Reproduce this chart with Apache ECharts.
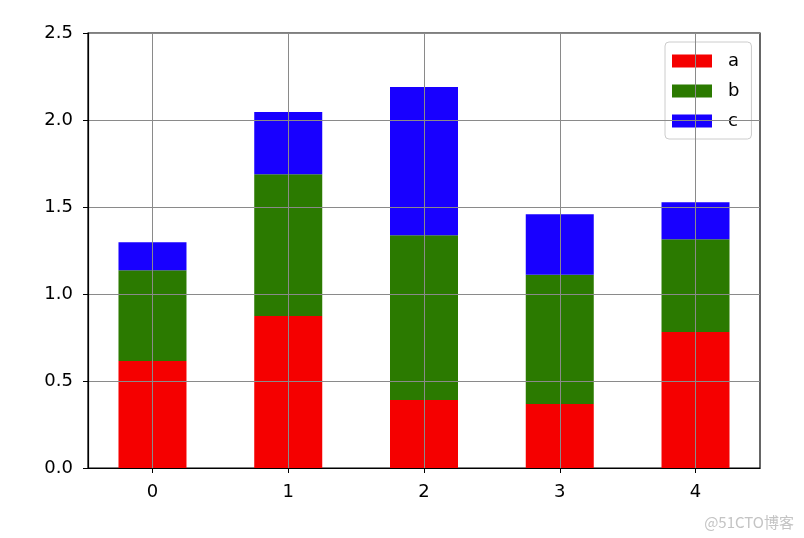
<!DOCTYPE html>
<html>
<head>
<meta charset="utf-8">
<script src="https://cdn.jsdelivr.net/npm/echarts@6/dist/echarts.min.js"></script>
<style>html,body{margin:0;padding:0;background:#fff;}#chart{width:804px;height:538px;}</style>
</head>
<body>
<div id="chart"></div>
<script>
var categories = [0, 1, 2, 3, 4];
var seriesA = [0.615, 0.874, 0.391, 0.368, 0.782];
var seriesB = [0.521, 0.814, 0.946, 0.743, 0.532];
var seriesC = [0.161, 0.358, 0.853, 0.347, 0.213];
var yTicks = [0, 0.5, 1.0, 1.5, 2.0, 2.5];

var chart = echarts.init(document.getElementById('chart'), null, {renderer: 'canvas'});
var font = 'DejaVu Sans';
// value first, position second, so the stack is applied to the values
function pairs(vals) { return categories.map(function (c, i) { return [vals[i], c]; }); }
function bar(name, vals, color) {
  return {
    name: name, type: 'bar', stack: 'total', data: pairs(vals),
    encode: {x: 1, y: 0},
    barWidth: 68, itemStyle: {color: color}, z: 2
  };
}
var option = {
  backgroundColor: '#ffffff',
  animation: false,
  grid: {left: 88, right: 44, top: 33, bottom: 70, show: true, borderColor: '#000', borderWidth: 1.2, backgroundColor: 'transparent'},
  xAxis: {
    type: 'value', min: -0.475, max: 4.475, z: 5,
    axisLine: {show: true, onZero: false, lineStyle: {color: '#000', width: 1.2}},
    axisTick: {show: true, length: 5, customValues: categories, lineStyle: {color: '#000'}},
    axisLabel: {customValues: categories, margin: 15, color: '#000', fontFamily: font, fontSize: 18},
    splitLine: {show: true, lineStyle: {color: '#8a8a8a', width: 1}}
  },
  yAxis: {
    type: 'value', min: yTicks[0], max: yTicks[yTicks.length - 1], interval: 0.5, z: 5,
    axisLine: {show: true, onZero: false, lineStyle: {color: '#000', width: 1.2}},
    axisTick: {show: true, length: 5, lineStyle: {color: '#000'}},
    axisLabel: {margin: 15, color: '#000', fontFamily: font, fontSize: 18, padding: [4, 0, 0, 0],
      formatter: function (v) { return v.toFixed(1); }},
    splitLine: {show: true, lineStyle: {color: '#8a8a8a', width: 1}}
  },
  legend: {
    orient: 'vertical', left: 665, top: 42,
    padding: [10, 12, 9, 7], itemGap: 12, itemWidth: 40, itemHeight: 13,
    backgroundColor: '#fff', borderColor: '#cccccc', borderWidth: 1, borderRadius: 4,
    icon: 'rect',
    textStyle: {fontFamily: font, fontSize: 18, color: '#000', lineHeight: 17, padding: [0, 0, 0, 11]},
    data: ['a', 'b', 'c']
  },
  series: [
    bar('a', seriesA, '#f50000'),
    bar('b', seriesB, '#2b7a00'),
    bar('c', seriesC, '#1800ff')
  ],
  graphic: [{
    type: 'text', right: 10, bottom: 8,
    style: {text: '@51CTO博客', fill: '#c4c4c4', font: '15px "Noto Sans CJK SC"'}
  }]
};
chart.setOption(option);
</script>
</body>
</html>
